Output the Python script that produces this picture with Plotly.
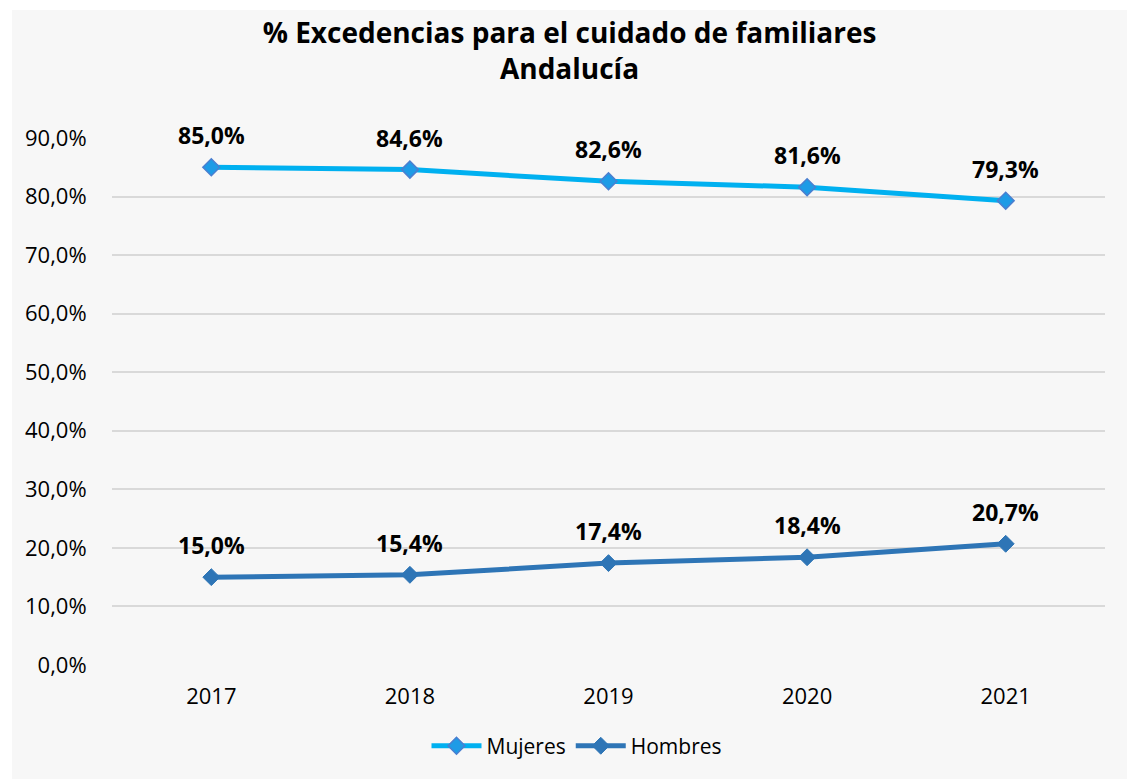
import plotly.graph_objects as go

years = [2017, 2018, 2019, 2020, 2021]
mujeres = [85.0, 84.6, 82.6, 81.6, 79.3]
hombres = [15.0, 15.4, 17.4, 18.4, 20.7]
y_ticks = [0, 10, 20, 30, 40, 50, 60, 70, 80, 90]

def fmt(v):
    return f"{v:.1f}".replace(".", ",") + "%"

# figure occupies the gray panel; page offset gives the white border
OX, OY = 12, 10
W, H = 1127 - OX, 779 - OY
L, R, T, B = 112 - OX, 22, 138 - OY, 110
pw = W - L - R

fig = go.Figure()
fig.add_trace(go.Scatter(
    x=years, y=mujeres, name="Mujeres", mode="lines+markers",
    line=dict(color="#00b0f0", width=5),
    marker=dict(symbol="diamond", size=13, color="#1e9be6",
                line=dict(color="#4a7fd0", width=1.5)),
    cliponaxis=False,
))
fig.add_trace(go.Scatter(
    x=years, y=hombres, name="Hombres", mode="lines+markers",
    line=dict(color="#2e75b6", width=5),
    marker=dict(symbol="diamond", size=13, color="#2e75b6",
                line=dict(color="#2e75b6", width=1)),
    cliponaxis=False,
))

for series in (mujeres, hombres):
    for xi, yi in zip(years, series):
        fig.add_annotation(x=xi, y=yi, xref="x", yref="y",
                           text="<b>" + fmt(yi) + "</b>", showarrow=False,
                           yshift=32,
                           font=dict(size=23, color="#000000", family="Open Sans"))

fig.update_layout(
    width=W, height=H,
    margin=dict(l=L, r=R, t=T, b=B),
    paper_bgcolor="#f7f7f7",
    plot_bgcolor="#f7f7f7",
    font=dict(family="Open Sans", color="#000000", size=22),
    title=dict(text="<b>% Excedencias para el cuidado de familiares<br>Andalucía</b>",
               x=0.5, xanchor="center", y=1 - 33 / H, yanchor="top",
               font=dict(size=28, family="Open Sans", color="#000000")),
    showlegend=True,
    legend=dict(orientation="h", x=(577 - 112) / pw, xanchor="center",
                y=-0.115, yanchor="top", itemwidth=50,
                font=dict(size=21), bgcolor="rgba(0,0,0,0)"),
    xaxis=dict(type="linear", range=[years[0] - 0.5, years[-1] + 0.5],
               autorange=False,
               tickvals=years, ticktext=[str(y) for y in years],
               showgrid=False, showline=False, zeroline=False,
               ticks="outside", ticklen=12, tickcolor="rgba(0,0,0,0)",
               tickfont=dict(size=22)),
    yaxis=dict(range=[0, 90], autorange=False,
               tickvals=y_ticks, ticktext=[fmt(v) for v in y_ticks],
               showgrid=True, gridcolor="#d9d9d9", gridwidth=2, zeroline=False,
               ticks="outside", ticklen=20, tickcolor="rgba(0,0,0,0)",
               tickfont=dict(size=22)),
)

fig.write_html("out.html", config={"displayModeBar": False},
               post_script="document.body.style.margin='0';"
                           "document.body.style.padding='%dpx 0 0 %dpx';"
                           "document.body.style.background='#ffffff';" % (OY, OX))
